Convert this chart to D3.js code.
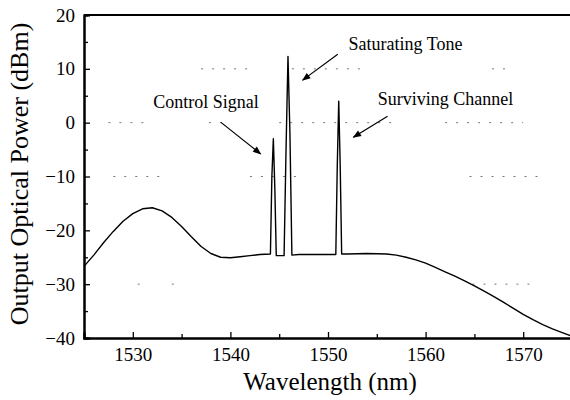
<!DOCTYPE html>
<html>
<head>
<meta charset="utf-8">
<script src="https://cdn.jsdelivr.net/npm/d3@7"></script>
</head>
<body style="margin:0">
<div id="chart"></div>
<script>
const FONT = 'Liberation Serif';

// spectrum (nm, dBm)
const wavelength = [1525, 1526, 1527, 1528, 1529, 1530, 1531, 1532, 1533, 1534, 1535, 1536, 1537, 1538, 1539, 1540, 1541, 1542, 1543, 1544.1, 1544.25, 1544.4, 1544.55, 1544.7, 1545.5, 1545.7, 1545.9, 1546.1, 1546.3, 1547, 1548, 1549, 1550, 1550.8, 1550.95, 1551.1, 1551.25, 1551.4, 1552, 1554, 1556, 1557, 1558, 1559, 1560, 1561, 1562, 1563, 1564, 1565, 1566, 1567, 1568, 1569, 1570, 1571, 1572, 1573, 1574, 1575];
const power = [-26.7, -24.6, -22.3, -20.2, -18.3, -16.9, -16.0, -15.8, -16.4, -17.6, -19.3, -21.2, -23.0, -24.3, -25.0, -25.1, -24.9, -24.7, -24.5, -24.4, -10, -3.0, -12, -24.7, -24.7, -5, 12.3, -2, -24.6, -24.5, -24.5, -24.5, -24.5, -24.5, -8, 4.0, -8, -24.4, -24.4, -24.3, -24.4, -24.6, -25.0, -25.5, -26.1, -26.9, -27.7, -28.5, -29.4, -30.3, -31.3, -32.3, -33.4, -34.5, -35.6, -36.6, -37.5, -38.3, -39.0, -39.7];

const xTicks = [1530, 1540, 1550, 1560, 1570];
const yTicks = [20, 10, 0, -10, -20, -30, -40];

// annotations: label, text position, arrow from -> to (in data units)
const labels = ['Control Signal', 'Saturating Tone', 'Surviving Channel'];
const labelAt = [[1532.1, 2.7], [1552.1, 13.5], [1555.1, 3.3]];
const arrowFrom = [[1539.0, 0.1], [1551.0, 12.7], [1556.1, 1.2]];
const arrowTo = [[1543.1, -5.8], [1547.4, 7.9], [1552.6, -2.7]];

// faint dotted fragments of the scanned grid (level, start nm, end nm)
const gridLevel = [10, 10, 10, 0, 0, 0, 0, -10, -10, -10, -30, -30, -30];
const gridStart = [1537, 1546.3, 1566.8, 1527.5, 1537.8, 1545, 1562, 1528, 1542, 1564.5, 1530.5, 1534, 1564.8];
const gridEnd = [1542.5, 1554, 1569, 1531.5, 1539, 1556.5, 1570, 1533.5, 1547, 1571.5, 1531, 1534.5, 1571];

const width = 570, height = 400;
const margin = {top: 15, left: 84, bottom: 62, right: -2};

const svg = d3.select('#chart').append('svg')
  .attr('width', width).attr('height', height)
  .attr('font-family', FONT);

const x = d3.scaleLinear().domain([1525, 1575]).range([margin.left, width - margin.right]);
const y = d3.scaleLinear().domain([-40, 20]).range([height - margin.bottom, margin.top]);

// dotted grid bits
gridLevel.forEach(function(lv, i) {
  svg.append('line')
    .attr('x1', x(gridStart[i])).attr('x2', x(gridEnd[i]))
    .attr('y1', y(lv)).attr('y2', y(lv))
    .attr('stroke', '#777').attr('stroke-width', 1)
    .attr('stroke-dasharray', '2,9');
});

// axes, ticks inward
const xAxis = d3.axisBottom(x).tickValues(xTicks).tickSize(-6).tickPadding(10).tickFormat(d3.format('d'));
const xMinor = d3.axisBottom(x).tickValues([1535, 1545, 1555, 1565]).tickSize(-4).tickFormat('');
const yAxis = d3.axisLeft(y).tickValues(yTicks).tickSize(-6).tickPadding(9);
const yMinor = d3.axisLeft(y).tickValues([15, 5, -5, -15, -25, -35]).tickSize(-4).tickFormat('');

function styleAxis(g) {
  g.attr('font-family', FONT).attr('font-size', 19);
  g.select('.domain').attr('stroke', '#000').attr('stroke-width', 2);
  g.selectAll('.tick line').attr('stroke', '#000').attr('stroke-width', 1.3);
  g.selectAll('.tick text').attr('fill', '#000')
    .attr('font-family', FONT).attr('font-size', 19);
}

svg.append('g').attr('transform', 'translate(0,' + y(-40) + ')').call(xAxis).call(styleAxis);
svg.append('g').attr('transform', 'translate(0,' + y(-40) + ')').call(xMinor).call(styleAxis);
svg.append('g').attr('transform', 'translate(' + x(1525) + ',0)').call(yAxis).call(styleAxis);
svg.append('g').attr('transform', 'translate(' + x(1525) + ',0)').call(yMinor).call(styleAxis);

// top frame line
svg.append('line')
  .attr('x1', x(1525)).attr('x2', width)
  .attr('y1', y(20)).attr('y2', y(20))
  .attr('stroke', '#000').attr('stroke-width', 2);

// the spectrum
const pts = wavelength.map(function(w, i) { return [w, power[i]]; });
const line = d3.line().x(function(d) { return x(d[0]); }).y(function(d) { return y(d[1]); });

svg.append('path')
  .datum(pts)
  .attr('d', line)
  .attr('fill', 'none')
  .attr('stroke', '#000')
  .attr('stroke-width', 1.4)
  .attr('stroke-linejoin', 'round');

// arrows
svg.append('defs').append('marker')
  .attr('id', 'head')
  .attr('viewBox', '0 0 10 10')
  .attr('refX', 9).attr('refY', 5)
  .attr('markerWidth', 9).attr('markerHeight', 7)
  .attr('orient', 'auto')
  .append('path').attr('d', 'M0,1 L10,5 L0,9 Z').attr('fill', '#000');

labels.forEach(function(t, i) {
  svg.append('text')
    .attr('x', x(labelAt[i][0])).attr('y', y(labelAt[i][1]))
    .attr('font-family', FONT).attr('font-size', 18)
    .attr('fill', '#000')
    .text(t);
  svg.append('line')
    .attr('x1', x(arrowFrom[i][0])).attr('y1', y(arrowFrom[i][1]))
    .attr('x2', x(arrowTo[i][0])).attr('y2', y(arrowTo[i][1]))
    .attr('stroke', '#000').attr('stroke-width', 1.2)
    .attr('marker-end', 'url(#head)');
});

// axis titles
svg.append('text')
  .attr('x', 330).attr('y', 390)
  .attr('text-anchor', 'middle')
  .attr('font-family', FONT).attr('font-size', 25)
  .text('Wavelength (nm)');

svg.append('text')
  .attr('transform', 'translate(28,174) rotate(-90)')
  .attr('text-anchor', 'middle')
  .attr('font-family', FONT).attr('font-size', 26)
  .text('Output Optical Power (dBm)');
</script>
</body>
</html>
